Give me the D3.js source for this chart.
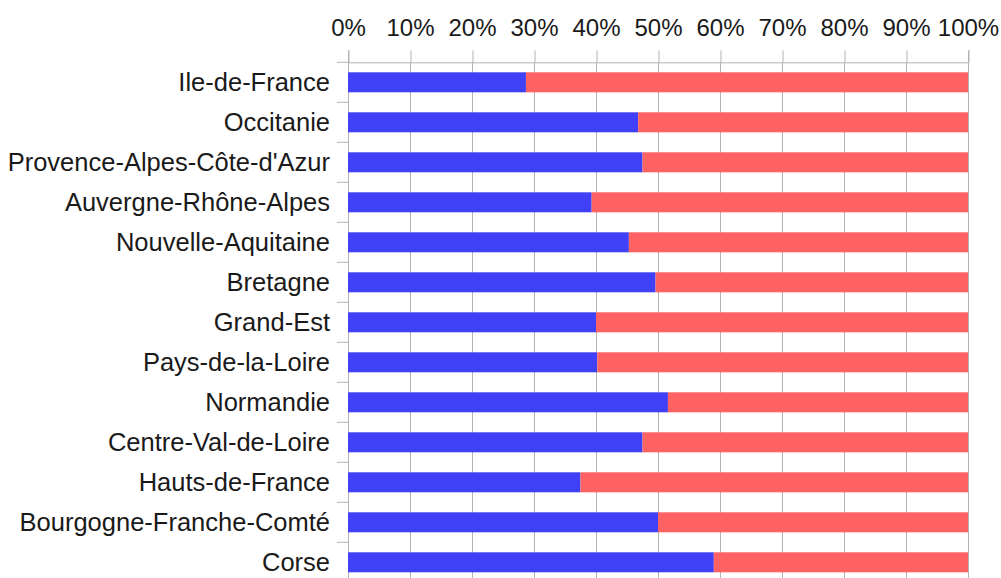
<!DOCTYPE html>
<html>
<head>
<meta charset="utf-8">
<script src="https://cdn.jsdelivr.net/npm/d3@7"></script>
<style>
  body { margin: 0; background: #fff; }
  svg { display: block; }
  text { font-family: "Liberation Sans", Arial, sans-serif; fill: #1a1a1a; }
</style>
</head>
<body>
<div id="chart"></div>
<script>
// regions, top to bottom
var regions = [
  "Ile-de-France", "Occitanie", "Provence-Alpes-Côte-d'Azur", "Auvergne-Rhône-Alpes",
  "Nouvelle-Aquitaine", "Bretagne", "Grand-Est", "Pays-de-la-Loire", "Normandie",
  "Centre-Val-de-Loire", "Hauts-de-France", "Bourgogne-Franche-Comté", "Corse"
];
// share of the blue series (%), red fills the rest up to 100
var blueShare = [28.7, 46.8, 47.5, 39.3, 45.3, 49.6, 40.0, 40.2, 51.6, 47.5, 37.5, 50.0, 59.0];
var redShare = blueShare.map(function (v) { return 100 - v; });
var xTicks = [0, 10, 20, 30, 40, 50, 60, 70, 80, 90, 100];

var W = 1001, H = 578;
var plotLeft = 348, plotRight = 968, plotTop = 62.3, band = 40;

var svg = d3.select('#chart').append('svg')
  .attr('width', W)
  .attr('height', H);

var x = d3.scaleLinear().domain([0, 100]).range([plotLeft, plotRight]);
var y = d3.scaleBand().domain(regions)
  .range([plotTop, plotTop + band * regions.length])
  .paddingInner(0.5).paddingOuter(0.25);

// vertical grid
svg.append('g').selectAll('line')
  .data(xTicks)
  .enter().append('line')
  .attr('x1', d => x(d) + 0.5).attr('x2', d => x(d) + 0.5)
  .attr('y1', plotTop).attr('y2', H)
  .style('stroke', '#b3b3b3').style('stroke-width', 1);

// top axis
var xAxis = svg.append('g')
  .attr('transform', 'translate(0,' + plotTop + ')')
  .call(d3.axisTop(x).tickValues(xTicks).tickFormat(d => d + '%').tickSize(12).tickPadding(14));
xAxis.select('.domain').attr('stroke', '#b3b3b3');
xAxis.selectAll('.tick line').attr('stroke', '#b3b3b3').attr('transform', 'translate(0.5,0)');
xAxis.selectAll('text').style('font-size', '24px').attr('fill', '#1a1a1a')
  .style('font-family', '"Liberation Sans", Arial, sans-serif');

// left axis ticks at band edges
var bandEdges = regions.map(r => y(r) - y.step() * 0.25).concat([plotTop + band * regions.length]);
svg.append('g').selectAll('line')
  .data(bandEdges)
  .enter().append('line')
  .attr('x1', plotLeft - 11).attr('x2', plotLeft)
  .attr('y1', d => d).attr('y2', d => d)
  .style('stroke', '#b3b3b3');

svg.append('g').selectAll('text')
  .data(regions)
  .enter().append('text')
  .attr('x', 330)
  .attr('y', d => y(d) + y.bandwidth() / 2)
  .attr('dy', '0.35em')
  .attr('text-anchor', 'end')
  .style('font-size', '25.5px')
  .text(d => d);

// bars
svg.append('g').selectAll('rect.blue')
  .data(regions)
  .enter().append('rect')
  .attr('class', 'blue')
  .attr('x', x(0))
  .attr('y', d => y(d))
  .attr('width', (d, i) => x(blueShare[i]) - x(0))
  .attr('height', y.bandwidth())
  .style('fill', '#4040f6');

svg.append('g').selectAll('rect.red')
  .data(regions)
  .enter().append('rect')
  .attr('class', 'red')
  .attr('x', (d, i) => x(blueShare[i]))
  .attr('y', d => y(d))
  .attr('width', (d, i) => x(blueShare[i] + redShare[i]) - x(blueShare[i]))
  .attr('height', y.bandwidth())
  .style('fill', '#ff6262');
</script>
</body>
</html>
